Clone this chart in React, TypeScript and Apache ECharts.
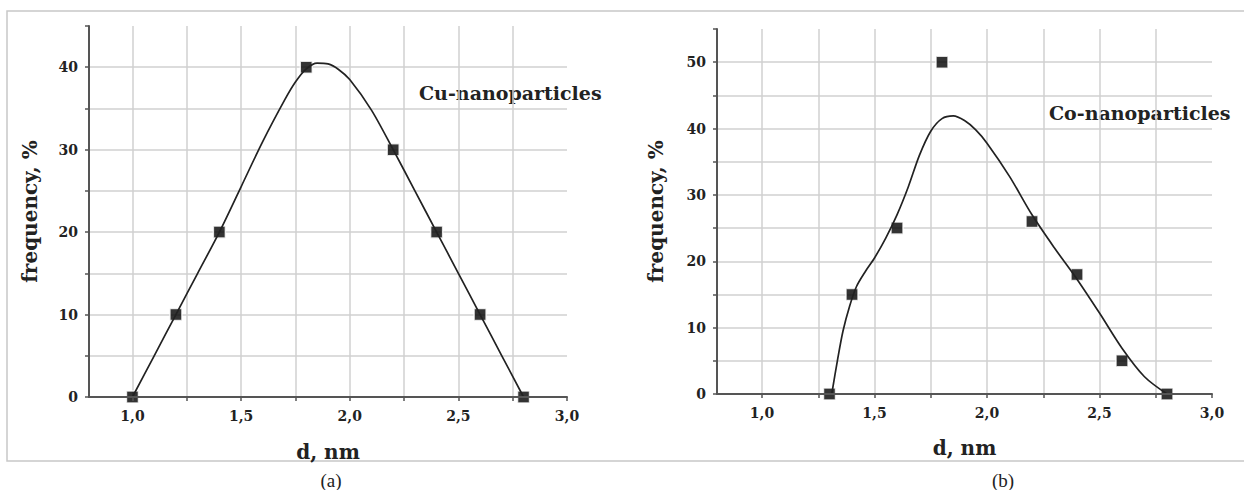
import React, { useEffect, useRef } from "react";
import * as echarts from "echarts";

// Measured points (markers)
const cuX = [1.0, 1.2, 1.4, 1.8, 2.2, 2.4, 2.6, 2.8];
const cuY = [0, 10, 20, 40, 30, 20, 10, 0];
const coX = [1.3, 1.4, 1.6, 1.8, 2.2, 2.4, 2.6, 2.8];
const coY = [0, 15, 25, 50, 26, 18, 5, 0];

// Fitted curves
const cuFitX = [1.0, 1.1, 1.2, 1.3, 1.4, 1.5, 1.6, 1.7, 1.75, 1.8, 1.85, 1.9, 1.95, 2.0, 2.1, 2.2, 2.3, 2.4, 2.5, 2.6, 2.7, 2.8];
const cuFitY = [0, 5, 10, 15, 20, 25.5, 31, 36, 38.2, 39.8, 40.5, 40.4, 39.7, 38.5, 34.8, 30, 25, 20, 15, 10, 5, 0];
const coFitX = [1.31, 1.335, 1.36, 1.39, 1.42, 1.46, 1.5, 1.55, 1.6, 1.65, 1.7, 1.75, 1.8, 1.85, 1.9, 1.95, 2.0, 2.1, 2.2, 2.3, 2.4, 2.5, 2.6, 2.7, 2.8];
const coFitY = [0, 5, 9.5, 13.3, 16.2, 18.5, 20.5, 23.5, 27, 31.2, 36, 39.6, 41.5, 41.9, 41.2, 39.8, 37.8, 32.8, 27, 22, 17.3, 12.2, 6.9, 2.6, 0];

// Ticks
const xTicks = [1.0, 1.25, 1.5, 1.75, 2.0, 2.25, 2.5, 2.75, 3.0];
const xGridLines = [1.0, 1.25, 1.5, 1.75, 2.0, 2.25, 2.5, 2.75];
const xLabels = [1.0, 1.5, 2.0, 2.5, 3.0];
const cuYTicks = [0, 5, 10, 15, 20, 25, 30, 35, 40, 45];
const cuYGrid = [5, 10, 15, 20, 25, 30, 35, 40];
const cuYLabels = [0, 10, 20, 30, 40];
const coYTicks = [0, 5, 10, 15, 20, 25, 30, 35, 40, 45, 50, 55];
const coYGrid = [5, 10, 15, 20, 25, 30, 35, 40, 45, 50];
const coYLabels = [0, 10, 20, 30, 40, 50];

const FONT = "'DejaVu Serif', serif";
const AXIS = "#555";
const GRIDC = "#d0d0d0";

function mainX(g: number, nameGap: number) {
  return {
    type: "value",
    gridIndex: g,
    min: 0.8,
    max: 3.0,
    z: 10,
    name: "d, nm",
    nameLocation: "middle",
    nameGap,
    nameTextStyle: { fontFamily: FONT, fontWeight: "bold", fontSize: 20, color: "#222" },
    axisLine: { show: true, onZero: false, lineStyle: { color: AXIS, width: 2 } },
    axisTick: { show: true, length: 4, customValues: xTicks, lineStyle: { color: AXIS, width: 1.5 } },
    axisLabel: {
      customValues: xLabels,
      margin: 12,
      fontFamily: FONT,
      fontWeight: "bold",
      fontSize: 14,
      color: "#222",
      formatter: (v: number) => v.toFixed(1).replace(".", ","),
    },
    splitLine: { show: false },
  };
}
function gridX(g: number) {
  return {
    type: "value",
    gridIndex: g,
    min: 0.8,
    max: 3.0,
    position: "top",
    axisLine: { show: false },
    axisTick: { show: false, customValues: xGridLines },
    axisLabel: { show: false },
    splitLine: { show: true, lineStyle: { color: GRIDC, width: 1.5 } },
  };
}
function mainY(g: number, max: number, ticks: number[], labels: number[], nameGap: number) {
  return {
    type: "value",
    gridIndex: g,
    min: 0,
    max,
    z: 10,
    name: "frequency, %",
    nameLocation: "middle",
    nameRotate: 90,
    nameGap,
    nameTextStyle: { fontFamily: FONT, fontWeight: "bold", fontSize: 20, color: "#222" },
    axisLine: { show: true, onZero: false, lineStyle: { color: AXIS, width: 2 } },
    axisTick: { show: true, length: 4, customValues: ticks, lineStyle: { color: AXIS, width: 1.5 } },
    axisLabel: {
      customValues: labels,
      margin: 11,
      fontFamily: FONT,
      fontWeight: "bold",
      fontSize: 14,
      color: "#222",
    },
    splitLine: { show: false },
  };
}
function gridY(g: number, max: number, lines: number[]) {
  return {
    type: "value",
    gridIndex: g,
    min: 0,
    max,
    position: "right",
    axisLine: { show: false },
    axisTick: { show: false, customValues: lines },
    axisLabel: { show: false },
    splitLine: { show: true, lineStyle: { color: GRIDC, width: 1.5 } },
  };
}

const pair = (xs: number[], ys: number[]) => xs.map((x, i) => [x, ys[i]]);

export default function App() {
  const ref = useRef<HTMLDivElement>(null);
  useEffect(() => {
    if (!ref.current) return;
    const chart = echarts.init(ref.current, null, { renderer: "svg" });
    chart.setOption({
      animation: false,
      backgroundColor: "#fff",
      grid: [
        { left: 89, right: 677, top: 26, bottom: 93 },
        { left: 717, right: 32, top: 29, bottom: 96 },
      ],
      xAxis: [mainX(0, 45), gridX(0), mainX(1, 44), gridX(1)],
      yAxis: [
        mainY(0, 45, cuYTicks, cuYLabels, 49),
        gridY(0, 45, cuYGrid),
        mainY(1, 55, coYTicks, coYLabels, 51),
        gridY(1, 55, coYGrid),
      ],
      graphic: [
        {
          type: "rect",
          shape: { x: 7, y: 11, width: 1250, height: 450 },
          style: { fill: "none", stroke: "#c8c8c8", lineWidth: 1.5 },
          z: -10,
        },
        {
          type: "text",
          x: 419,
          y: 93,
          style: { text: "Cu-nanoparticles", fontFamily: FONT, fontWeight: "bold", fontSize: 19, fill: "#222", verticalAlign: "middle" },
        },
        {
          type: "text",
          x: 1049,
          y: 113,
          style: { text: "Co-nanoparticles", fontFamily: FONT, fontWeight: "bold", fontSize: 19, fill: "#222", verticalAlign: "middle" },
        },
        {
          type: "text",
          x: 331,
          y: 480,
          style: { text: "(a)", fontFamily: "'Liberation Serif', serif", fontSize: 19, fill: "#222", align: "center", verticalAlign: "middle" },
        },
        {
          type: "text",
          x: 1003,
          y: 480,
          style: { text: "(b)", fontFamily: "'Liberation Serif', serif", fontSize: 19, fill: "#222", align: "center", verticalAlign: "middle" },
        },
      ],
      series: [
        {
          type: "line",
          xAxisIndex: 0,
          yAxisIndex: 0,
          data: pair(cuFitX, cuFitY),
          smooth: 0.3,
          showSymbol: false,
          symbol: "none",
          lineStyle: { color: "#222", width: 1.7 },
        },
        {
          type: "scatter",
          xAxisIndex: 0,
          yAxisIndex: 0,
          data: pair(cuX, cuY),
          symbol: "rect",
          symbolSize: 12,
          itemStyle: { color: "#000", borderColor: "#fff", borderWidth: 1.5 },
        },
        {
          type: "line",
          xAxisIndex: 2,
          yAxisIndex: 2,
          data: pair(coFitX, coFitY),
          smooth: 0.3,
          showSymbol: false,
          symbol: "none",
          lineStyle: { color: "#222", width: 1.7 },
        },
        {
          type: "scatter",
          xAxisIndex: 2,
          yAxisIndex: 2,
          data: pair(coX, coY),
          symbol: "rect",
          symbolSize: 12,
          itemStyle: { color: "#000", borderColor: "#fff", borderWidth: 1.5 },
        },
      ],
    });
    return () => chart.dispose();
  }, []);
  return (
    <div
      ref={ref}
      style={{ position: "fixed", left: 0, top: 0, width: 1244, height: 490, background: "#fff" }}
    />
  );
}
